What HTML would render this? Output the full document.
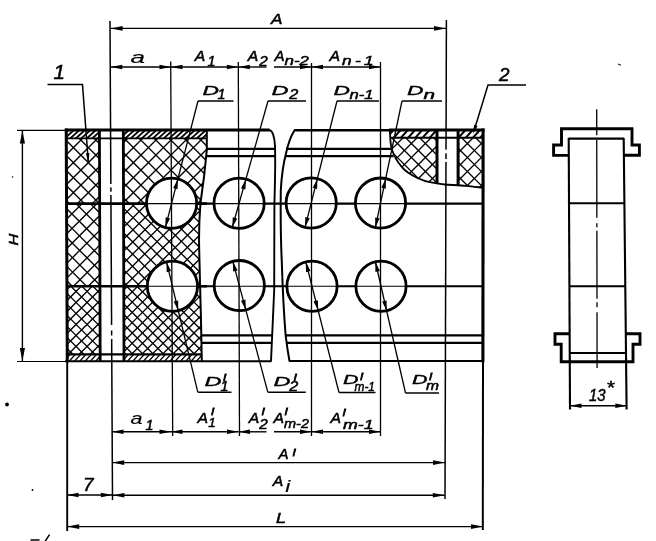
<!DOCTYPE html>
<html lang="ru"><head><meta charset="utf-8"><title>Drawing</title>
<style>
html,body{margin:0;padding:0;background:#fff;}
svg{display:block;will-change:transform;}
text{font-family:"Liberation Sans",sans-serif;font-style:italic;fill:#000;stroke:#000;stroke-width:0.5px;}
.ah{fill:#000;stroke:none;}
</style></head><body>
<svg width="656" height="541" viewBox="0 0 656 541">
<rect width="656" height="541" fill="#fff"/>
<g stroke="#000" fill="none" stroke-linecap="butt">
<defs>
<clipPath id="cl"><path d="M66,139 L206.8,139 L206.8,150 C205.5,165 203.5,183 200.5,203 C199.5,215 198.8,235 199.2,250 C199.6,270 200.5,300 201,320 L201.6,354 L66,354 Z"/></clipPath>
<clipPath id="cr"><path d="M389.8,131 C390.0,133.4 390.3,141.4 391,145.4 C391.7,149.4 392.8,152.2 394,155 C395.2,157.8 396.5,159.9 398.2,162.3 C399.9,164.7 401.8,167.3 404.2,169.5 C406.6,171.7 409.2,173.6 412.6,175.5 C416.0,177.4 420.7,179.6 424.7,180.9 C428.7,182.2 433.3,182.7 436.7,183.3 C440.1,183.9 440.1,184.1 445,184.5 C449.9,184.9 459.7,185.2 466,185.8 C472.3,186.4 480.2,187.5 483,187.8 L484,131 Z"/></clipPath>
<clipPath id="ct"><path d="M66,131 H206.5 V139 H66 Z M66,354 H201.5 V361 H66 Z"/></clipPath>
<clipPath id="ct2"><path d="M390,131 H484 V138 H390.4 Z"/></clipPath>
</defs>
<clipPath id="b0"><rect x="60" y="130" width="41" height="73.6"/></clipPath>
<g clip-path="url(#b0)"><g clip-path="url(#cl)" stroke-width="1.35">
<line x1="-6.2" y1="128.0" x2="71.4" y2="205.6"/>
<line x1="8.8" y1="128.0" x2="86.4" y2="205.6"/>
<line x1="23.8" y1="128.0" x2="101.4" y2="205.6"/>
<line x1="63.0" y1="128.0" x2="-14.6" y2="205.6"/>
<line x1="38.8" y1="128.0" x2="116.4" y2="205.6"/>
<line x1="78.0" y1="128.0" x2="0.4" y2="205.6"/>
<line x1="53.8" y1="128.0" x2="131.4" y2="205.6"/>
<line x1="93.0" y1="128.0" x2="15.4" y2="205.6"/>
<line x1="68.8" y1="128.0" x2="146.4" y2="205.6"/>
<line x1="108.0" y1="128.0" x2="30.4" y2="205.6"/>
<line x1="83.8" y1="128.0" x2="161.4" y2="205.6"/>
<line x1="123.0" y1="128.0" x2="45.4" y2="205.6"/>
<line x1="98.8" y1="128.0" x2="176.4" y2="205.6"/>
<line x1="138.0" y1="128.0" x2="60.4" y2="205.6"/>
<line x1="153.0" y1="128.0" x2="75.4" y2="205.6"/>
<line x1="168.0" y1="128.0" x2="90.4" y2="205.6"/>
</g></g>
<clipPath id="b1"><rect x="122" y="130" width="88" height="73.6"/></clipPath>
<g clip-path="url(#b1)"><g clip-path="url(#cl)" stroke-width="1.35">
<line x1="53.8" y1="128.0" x2="131.4" y2="205.6"/>
<line x1="68.8" y1="128.0" x2="146.4" y2="205.6"/>
<line x1="83.8" y1="128.0" x2="161.4" y2="205.6"/>
<line x1="123.0" y1="128.0" x2="45.4" y2="205.6"/>
<line x1="98.8" y1="128.0" x2="176.4" y2="205.6"/>
<line x1="138.0" y1="128.0" x2="60.4" y2="205.6"/>
<line x1="113.8" y1="128.0" x2="191.4" y2="205.6"/>
<line x1="153.0" y1="128.0" x2="75.4" y2="205.6"/>
<line x1="128.8" y1="128.0" x2="206.4" y2="205.6"/>
<line x1="168.0" y1="128.0" x2="90.4" y2="205.6"/>
<line x1="143.8" y1="128.0" x2="221.4" y2="205.6"/>
<line x1="183.0" y1="128.0" x2="105.4" y2="205.6"/>
<line x1="158.8" y1="128.0" x2="236.4" y2="205.6"/>
<line x1="198.0" y1="128.0" x2="120.4" y2="205.6"/>
<line x1="173.8" y1="128.0" x2="251.4" y2="205.6"/>
<line x1="213.0" y1="128.0" x2="135.4" y2="205.6"/>
<line x1="188.8" y1="128.0" x2="266.4" y2="205.6"/>
<line x1="228.0" y1="128.0" x2="150.4" y2="205.6"/>
<line x1="203.8" y1="128.0" x2="281.4" y2="205.6"/>
<line x1="243.0" y1="128.0" x2="165.4" y2="205.6"/>
<line x1="258.0" y1="128.0" x2="180.4" y2="205.6"/>
<line x1="273.0" y1="128.0" x2="195.4" y2="205.6"/>
<line x1="288.0" y1="128.0" x2="210.4" y2="205.6"/>
</g></g>
<clipPath id="b2"><rect x="60" y="203.6" width="41" height="82.6"/></clipPath>
<g clip-path="url(#b2)"><g clip-path="url(#cl)" stroke-width="1.35">
<line x1="-26.8" y1="201.6" x2="59.8" y2="288.2"/>
<line x1="-12.4" y1="201.6" x2="74.2" y2="288.2"/>
<line x1="2.0" y1="201.6" x2="88.6" y2="288.2"/>
<line x1="16.4" y1="201.6" x2="103.0" y2="288.2"/>
<line x1="30.8" y1="201.6" x2="117.4" y2="288.2"/>
<line x1="45.2" y1="201.6" x2="131.8" y2="288.2"/>
<line x1="69.3" y1="201.6" x2="-17.3" y2="288.2"/>
<line x1="59.6" y1="201.6" x2="146.2" y2="288.2"/>
<line x1="84.1" y1="201.6" x2="-2.5" y2="288.2"/>
<line x1="74.0" y1="201.6" x2="160.6" y2="288.2"/>
<line x1="98.9" y1="201.6" x2="12.3" y2="288.2"/>
<line x1="88.4" y1="201.6" x2="175.0" y2="288.2"/>
<line x1="113.7" y1="201.6" x2="27.1" y2="288.2"/>
<line x1="102.8" y1="201.6" x2="189.4" y2="288.2"/>
<line x1="128.5" y1="201.6" x2="41.9" y2="288.2"/>
<line x1="143.3" y1="201.6" x2="56.7" y2="288.2"/>
<line x1="158.1" y1="201.6" x2="71.5" y2="288.2"/>
<line x1="172.9" y1="201.6" x2="86.3" y2="288.2"/>
<line x1="187.7" y1="201.6" x2="101.1" y2="288.2"/>
</g></g>
<clipPath id="b3"><rect x="122" y="203.6" width="88" height="82.6"/></clipPath>
<g clip-path="url(#b3)"><g clip-path="url(#cl)" stroke-width="1.35">
<line x1="43.2" y1="201.6" x2="129.8" y2="288.2"/>
<line x1="55.5" y1="201.6" x2="142.1" y2="288.2"/>
<line x1="67.8" y1="201.6" x2="154.4" y2="288.2"/>
<line x1="80.1" y1="201.6" x2="166.7" y2="288.2"/>
<line x1="92.4" y1="201.6" x2="179.0" y2="288.2"/>
<line x1="104.7" y1="201.6" x2="191.3" y2="288.2"/>
<line x1="125.1" y1="201.6" x2="38.5" y2="288.2"/>
<line x1="117.0" y1="201.6" x2="203.6" y2="288.2"/>
<line x1="137.1" y1="201.6" x2="50.5" y2="288.2"/>
<line x1="129.3" y1="201.6" x2="215.9" y2="288.2"/>
<line x1="149.1" y1="201.6" x2="62.5" y2="288.2"/>
<line x1="141.6" y1="201.6" x2="228.2" y2="288.2"/>
<line x1="161.1" y1="201.6" x2="74.5" y2="288.2"/>
<line x1="153.9" y1="201.6" x2="240.5" y2="288.2"/>
<line x1="173.1" y1="201.6" x2="86.5" y2="288.2"/>
<line x1="166.2" y1="201.6" x2="252.8" y2="288.2"/>
<line x1="185.1" y1="201.6" x2="98.5" y2="288.2"/>
<line x1="178.5" y1="201.6" x2="265.1" y2="288.2"/>
<line x1="197.1" y1="201.6" x2="110.5" y2="288.2"/>
<line x1="190.8" y1="201.6" x2="277.4" y2="288.2"/>
<line x1="209.1" y1="201.6" x2="122.5" y2="288.2"/>
<line x1="203.1" y1="201.6" x2="289.7" y2="288.2"/>
<line x1="221.1" y1="201.6" x2="134.5" y2="288.2"/>
<line x1="233.1" y1="201.6" x2="146.5" y2="288.2"/>
<line x1="245.1" y1="201.6" x2="158.5" y2="288.2"/>
<line x1="257.1" y1="201.6" x2="170.5" y2="288.2"/>
<line x1="269.1" y1="201.6" x2="182.5" y2="288.2"/>
<line x1="281.1" y1="201.6" x2="194.5" y2="288.2"/>
<line x1="293.1" y1="201.6" x2="206.5" y2="288.2"/>
</g></g>
<clipPath id="b4"><rect x="60" y="286.2" width="41" height="69.8"/></clipPath>
<g clip-path="url(#b4)"><g clip-path="url(#cl)" stroke-width="1.35">
<line x1="-8.2" y1="284.2" x2="65.6" y2="358.0"/>
<line x1="2.8" y1="284.2" x2="76.6" y2="358.0"/>
<line x1="13.8" y1="284.2" x2="87.6" y2="358.0"/>
<line x1="24.8" y1="284.2" x2="98.6" y2="358.0"/>
<line x1="35.8" y1="284.2" x2="109.6" y2="358.0"/>
<line x1="61.3" y1="284.2" x2="-12.5" y2="358.0"/>
<line x1="46.8" y1="284.2" x2="120.6" y2="358.0"/>
<line x1="72.3" y1="284.2" x2="-1.5" y2="358.0"/>
<line x1="57.8" y1="284.2" x2="131.6" y2="358.0"/>
<line x1="83.3" y1="284.2" x2="9.5" y2="358.0"/>
<line x1="68.8" y1="284.2" x2="142.6" y2="358.0"/>
<line x1="94.3" y1="284.2" x2="20.5" y2="358.0"/>
<line x1="79.8" y1="284.2" x2="153.6" y2="358.0"/>
<line x1="105.3" y1="284.2" x2="31.5" y2="358.0"/>
<line x1="90.8" y1="284.2" x2="164.6" y2="358.0"/>
<line x1="116.3" y1="284.2" x2="42.5" y2="358.0"/>
<line x1="101.8" y1="284.2" x2="175.6" y2="358.0"/>
<line x1="127.3" y1="284.2" x2="53.5" y2="358.0"/>
<line x1="138.3" y1="284.2" x2="64.5" y2="358.0"/>
<line x1="149.3" y1="284.2" x2="75.5" y2="358.0"/>
<line x1="160.3" y1="284.2" x2="86.5" y2="358.0"/>
<line x1="171.3" y1="284.2" x2="97.5" y2="358.0"/>
</g></g>
<clipPath id="b5"><rect x="122" y="286.2" width="88" height="69.8"/></clipPath>
<g clip-path="url(#b5)"><g clip-path="url(#cl)" stroke-width="1.35">
<line x1="52.5" y1="284.2" x2="126.3" y2="358.0"/>
<line x1="62.8" y1="284.2" x2="136.6" y2="358.0"/>
<line x1="73.1" y1="284.2" x2="146.9" y2="358.0"/>
<line x1="83.4" y1="284.2" x2="157.2" y2="358.0"/>
<line x1="93.7" y1="284.2" x2="167.5" y2="358.0"/>
<line x1="104.0" y1="284.2" x2="177.8" y2="358.0"/>
<line x1="129.5" y1="284.2" x2="55.7" y2="358.0"/>
<line x1="114.3" y1="284.2" x2="188.1" y2="358.0"/>
<line x1="139.8" y1="284.2" x2="66.0" y2="358.0"/>
<line x1="124.6" y1="284.2" x2="198.4" y2="358.0"/>
<line x1="150.1" y1="284.2" x2="76.3" y2="358.0"/>
<line x1="134.9" y1="284.2" x2="208.7" y2="358.0"/>
<line x1="160.4" y1="284.2" x2="86.6" y2="358.0"/>
<line x1="145.2" y1="284.2" x2="219.0" y2="358.0"/>
<line x1="170.7" y1="284.2" x2="96.9" y2="358.0"/>
<line x1="155.5" y1="284.2" x2="229.3" y2="358.0"/>
<line x1="181.0" y1="284.2" x2="107.2" y2="358.0"/>
<line x1="165.8" y1="284.2" x2="239.6" y2="358.0"/>
<line x1="191.3" y1="284.2" x2="117.5" y2="358.0"/>
<line x1="176.1" y1="284.2" x2="249.9" y2="358.0"/>
<line x1="201.6" y1="284.2" x2="127.8" y2="358.0"/>
<line x1="186.4" y1="284.2" x2="260.2" y2="358.0"/>
<line x1="211.9" y1="284.2" x2="138.1" y2="358.0"/>
<line x1="196.7" y1="284.2" x2="270.5" y2="358.0"/>
<line x1="222.2" y1="284.2" x2="148.4" y2="358.0"/>
<line x1="207.0" y1="284.2" x2="280.8" y2="358.0"/>
<line x1="232.5" y1="284.2" x2="158.7" y2="358.0"/>
<line x1="242.8" y1="284.2" x2="169.0" y2="358.0"/>
<line x1="253.1" y1="284.2" x2="179.3" y2="358.0"/>
<line x1="263.4" y1="284.2" x2="189.6" y2="358.0"/>
<line x1="273.7" y1="284.2" x2="199.9" y2="358.0"/>
<line x1="284.0" y1="284.2" x2="210.2" y2="358.0"/>
</g></g>
<clipPath id="cr0"><rect x="380" y="138" width="110" height="60"/></clipPath>
<g clip-path="url(#cr0)"><g clip-path="url(#cr)" stroke-width="1.35">
<line x1="215.9" y1="130" x2="285.9" y2="200"/>
<line x1="270.9" y1="130" x2="200.9" y2="200"/>
<line x1="229.9" y1="130" x2="299.9" y2="200"/>
<line x1="284.9" y1="130" x2="214.9" y2="200"/>
<line x1="243.9" y1="130" x2="313.9" y2="200"/>
<line x1="298.9" y1="130" x2="228.9" y2="200"/>
<line x1="257.9" y1="130" x2="327.9" y2="200"/>
<line x1="312.9" y1="130" x2="242.9" y2="200"/>
<line x1="271.9" y1="130" x2="341.9" y2="200"/>
<line x1="326.9" y1="130" x2="256.9" y2="200"/>
<line x1="285.9" y1="130" x2="355.9" y2="200"/>
<line x1="340.9" y1="130" x2="270.9" y2="200"/>
<line x1="299.9" y1="130" x2="369.9" y2="200"/>
<line x1="354.9" y1="130" x2="284.9" y2="200"/>
<line x1="313.9" y1="130" x2="383.9" y2="200"/>
<line x1="368.9" y1="130" x2="298.9" y2="200"/>
<line x1="327.9" y1="130" x2="397.9" y2="200"/>
<line x1="382.9" y1="130" x2="312.9" y2="200"/>
<line x1="341.9" y1="130" x2="411.9" y2="200"/>
<line x1="396.9" y1="130" x2="326.9" y2="200"/>
<line x1="355.9" y1="130" x2="425.9" y2="200"/>
<line x1="410.9" y1="130" x2="340.9" y2="200"/>
<line x1="369.9" y1="130" x2="439.9" y2="200"/>
<line x1="424.9" y1="130" x2="354.9" y2="200"/>
<line x1="383.9" y1="130" x2="453.9" y2="200"/>
<line x1="438.9" y1="130" x2="368.9" y2="200"/>
<line x1="397.9" y1="130" x2="467.9" y2="200"/>
<line x1="452.9" y1="130" x2="382.9" y2="200"/>
<line x1="411.9" y1="130" x2="481.9" y2="200"/>
<line x1="466.9" y1="130" x2="396.9" y2="200"/>
<line x1="425.9" y1="130" x2="495.9" y2="200"/>
<line x1="480.9" y1="130" x2="410.9" y2="200"/>
<line x1="439.9" y1="130" x2="509.9" y2="200"/>
<line x1="494.9" y1="130" x2="424.9" y2="200"/>
<line x1="453.9" y1="130" x2="523.9" y2="200"/>
<line x1="508.9" y1="130" x2="438.9" y2="200"/>
<line x1="467.9" y1="130" x2="537.9" y2="200"/>
<line x1="522.9" y1="130" x2="452.9" y2="200"/>
<line x1="481.9" y1="130" x2="551.9" y2="200"/>
<line x1="536.9" y1="130" x2="466.9" y2="200"/>
<line x1="495.9" y1="130" x2="565.9" y2="200"/>
<line x1="550.9" y1="130" x2="480.9" y2="200"/>
<line x1="509.9" y1="130" x2="579.9" y2="200"/>
<line x1="564.9" y1="130" x2="494.9" y2="200"/>
<line x1="523.9" y1="130" x2="593.9" y2="200"/>
<line x1="578.9" y1="130" x2="508.9" y2="200"/>
<line x1="537.9" y1="130" x2="607.9" y2="200"/>
<line x1="592.9" y1="130" x2="522.9" y2="200"/>
</g></g>
<g clip-path="url(#ct)">
<line x1="68.5" y1="130" x2="57.5" y2="140" stroke-width="1.8"/>
<line x1="66.0" y1="353" x2="57.0" y2="363" stroke-width="1.3"/>
<line x1="74.0" y1="130" x2="63.0" y2="140" stroke-width="1.8"/>
<line x1="71.3" y1="353" x2="62.3" y2="363" stroke-width="1.3"/>
<line x1="79.5" y1="130" x2="68.5" y2="140" stroke-width="1.8"/>
<line x1="76.6" y1="353" x2="67.6" y2="363" stroke-width="1.3"/>
<line x1="85.0" y1="130" x2="74.0" y2="140" stroke-width="1.8"/>
<line x1="81.9" y1="353" x2="72.9" y2="363" stroke-width="1.3"/>
<line x1="90.5" y1="130" x2="79.5" y2="140" stroke-width="1.8"/>
<line x1="87.2" y1="353" x2="78.2" y2="363" stroke-width="1.3"/>
<line x1="96.0" y1="130" x2="85.0" y2="140" stroke-width="1.8"/>
<line x1="92.5" y1="353" x2="83.5" y2="363" stroke-width="1.3"/>
<line x1="101.5" y1="130" x2="90.5" y2="140" stroke-width="1.8"/>
<line x1="97.8" y1="353" x2="88.8" y2="363" stroke-width="1.3"/>
<line x1="107.0" y1="130" x2="96.0" y2="140" stroke-width="1.8"/>
<line x1="103.1" y1="353" x2="94.1" y2="363" stroke-width="1.3"/>
<line x1="112.5" y1="130" x2="101.5" y2="140" stroke-width="1.8"/>
<line x1="108.4" y1="353" x2="99.4" y2="363" stroke-width="1.3"/>
<line x1="118.0" y1="130" x2="107.0" y2="140" stroke-width="1.8"/>
<line x1="113.7" y1="353" x2="104.7" y2="363" stroke-width="1.3"/>
<line x1="123.5" y1="130" x2="112.5" y2="140" stroke-width="1.8"/>
<line x1="119.0" y1="353" x2="110.0" y2="363" stroke-width="1.3"/>
<line x1="129.0" y1="130" x2="118.0" y2="140" stroke-width="1.8"/>
<line x1="124.3" y1="353" x2="115.3" y2="363" stroke-width="1.3"/>
<line x1="134.5" y1="130" x2="123.5" y2="140" stroke-width="1.8"/>
<line x1="129.6" y1="353" x2="120.6" y2="363" stroke-width="1.3"/>
<line x1="140.0" y1="130" x2="129.0" y2="140" stroke-width="1.8"/>
<line x1="134.9" y1="353" x2="125.9" y2="363" stroke-width="1.3"/>
<line x1="145.5" y1="130" x2="134.5" y2="140" stroke-width="1.8"/>
<line x1="140.2" y1="353" x2="131.2" y2="363" stroke-width="1.3"/>
<line x1="151.0" y1="130" x2="140.0" y2="140" stroke-width="1.8"/>
<line x1="145.5" y1="353" x2="136.5" y2="363" stroke-width="1.3"/>
<line x1="156.5" y1="130" x2="145.5" y2="140" stroke-width="1.8"/>
<line x1="150.8" y1="353" x2="141.8" y2="363" stroke-width="1.3"/>
<line x1="162.0" y1="130" x2="151.0" y2="140" stroke-width="1.8"/>
<line x1="156.1" y1="353" x2="147.1" y2="363" stroke-width="1.3"/>
<line x1="167.5" y1="130" x2="156.5" y2="140" stroke-width="1.8"/>
<line x1="161.4" y1="353" x2="152.4" y2="363" stroke-width="1.3"/>
<line x1="173.0" y1="130" x2="162.0" y2="140" stroke-width="1.8"/>
<line x1="166.7" y1="353" x2="157.7" y2="363" stroke-width="1.3"/>
<line x1="178.5" y1="130" x2="167.5" y2="140" stroke-width="1.8"/>
<line x1="172.0" y1="353" x2="163.0" y2="363" stroke-width="1.3"/>
<line x1="184.0" y1="130" x2="173.0" y2="140" stroke-width="1.8"/>
<line x1="177.3" y1="353" x2="168.3" y2="363" stroke-width="1.3"/>
<line x1="189.5" y1="130" x2="178.5" y2="140" stroke-width="1.8"/>
<line x1="182.6" y1="353" x2="173.6" y2="363" stroke-width="1.3"/>
<line x1="195.0" y1="130" x2="184.0" y2="140" stroke-width="1.8"/>
<line x1="187.9" y1="353" x2="178.9" y2="363" stroke-width="1.3"/>
<line x1="200.5" y1="130" x2="189.5" y2="140" stroke-width="1.8"/>
<line x1="193.2" y1="353" x2="184.2" y2="363" stroke-width="1.3"/>
<line x1="206.0" y1="130" x2="195.0" y2="140" stroke-width="1.8"/>
<line x1="198.5" y1="353" x2="189.5" y2="363" stroke-width="1.3"/>
<line x1="211.5" y1="130" x2="200.5" y2="140" stroke-width="1.8"/>
<line x1="203.8" y1="353" x2="194.8" y2="363" stroke-width="1.3"/>
<line x1="217.0" y1="130" x2="206.0" y2="140" stroke-width="1.8"/>
<line x1="209.1" y1="353" x2="200.1" y2="363" stroke-width="1.3"/>
<line x1="222.5" y1="130" x2="211.5" y2="140" stroke-width="1.8"/>
<line x1="214.4" y1="353" x2="205.4" y2="363" stroke-width="1.3"/>
<line x1="228.0" y1="130" x2="217.0" y2="140" stroke-width="1.8"/>
<line x1="219.7" y1="353" x2="210.7" y2="363" stroke-width="1.3"/>
</g>
<g clip-path="url(#ct2)" stroke-width="2.0">
<line x1="393.5" y1="130" x2="384.5" y2="140"/>
<line x1="400.7" y1="130" x2="391.7" y2="140"/>
<line x1="407.9" y1="130" x2="398.9" y2="140"/>
<line x1="415.1" y1="130" x2="406.1" y2="140"/>
<line x1="422.3" y1="130" x2="413.3" y2="140"/>
<line x1="429.5" y1="130" x2="420.5" y2="140"/>
<line x1="436.7" y1="130" x2="427.7" y2="140"/>
<line x1="443.9" y1="130" x2="434.9" y2="140"/>
<line x1="451.1" y1="130" x2="442.1" y2="140"/>
<line x1="458.3" y1="130" x2="449.3" y2="140"/>
<line x1="465.5" y1="130" x2="456.5" y2="140"/>
<line x1="472.7" y1="130" x2="463.7" y2="140"/>
<line x1="479.9" y1="130" x2="470.9" y2="140"/>
<line x1="487.1" y1="130" x2="478.1" y2="140"/>
<line x1="494.3" y1="130" x2="485.3" y2="140"/>
<line x1="501.5" y1="130" x2="492.5" y2="140"/>
<line x1="508.7" y1="130" x2="499.7" y2="140"/>
<line x1="515.9" y1="130" x2="506.9" y2="140"/>
<line x1="523.1" y1="130" x2="514.1" y2="140"/>
<line x1="530.3" y1="130" x2="521.3" y2="140"/>
</g>
<rect x="100" y="131" width="23.5" height="230" fill="#fff" stroke="none"/>
<rect x="437" y="131" width="21" height="54" fill="#fff" stroke="none"/>
<line x1="17" y1="130.3" x2="66" y2="130.3" stroke-width="1.2" />
<line x1="17" y1="361.5" x2="66" y2="361.5" stroke-width="1.2" />
<path d="M65,130 H269.6" stroke-width="3.1" fill="none" />
<path d="M269,130.2 H269.6 C272.5,131 274.5,138 275,146 C275.6,165 274.8,190 274.4,203.5 C274.3,235 274.4,270 274.2,290 C273.5,310 272,335 271,361.3" stroke-width="1.9" fill="none" />
<path d="M271.5,361.3 H65" stroke-width="2.0" fill="none" />
<path d="M392,130.2 H294.5" stroke-width="2.5" fill="none" />
<path d="M484.5,130 H389" stroke-width="3.1" fill="none" />
<path d="M295,130.2 H294.5 C291,136 287.5,146 286,153.5 C283.5,163 281.5,178 280.8,190 C280.5,215 281,245 281.8,262 C282.5,285 284,315 285.6,335 C286.8,345 288.2,354 289.5,361.3" stroke-width="2.0" fill="none" />
<path d="M289,361 H484" stroke-width="2.0" fill="none" />
<line x1="66.2" y1="128.5" x2="67.3" y2="362.3" stroke-width="3.0" />
<line x1="483.1" y1="128.5" x2="482.9" y2="362.3" stroke-width="3.1" />
<line x1="66" y1="138.3" x2="206.8" y2="138.3" stroke-width="1.7" />
<line x1="390" y1="137.8" x2="484" y2="137.8" stroke-width="2.0" />
<line x1="66" y1="354.4" x2="201.7" y2="354.4" stroke-width="2.2" />
<line x1="99.4" y1="130" x2="100.2" y2="361" stroke-width="2.8" />
<line x1="123.3" y1="130" x2="124.0" y2="361" stroke-width="2.8" />
<line x1="437" y1="130" x2="437" y2="183.8" stroke-width="3.0" />
<line x1="458.1" y1="130" x2="458.1" y2="185.5" stroke-width="3.0" />
<path d="M206.8,131 L206.8,150 C205.5,165 203.5,183 200.5,203 C199.5,215 198.8,235 199.2,250 C199.6,270 200.5,300 201,320 L201.8,361" stroke-width="2.0" fill="none" />
<path d="M389.8,131 C390.0,133.4 390.3,141.4 391,145.4 C391.7,149.4 392.8,152.2 394,155 C395.2,157.8 396.5,159.9 398.2,162.3 C399.9,164.7 401.8,167.3 404.2,169.5 C406.6,171.7 409.2,173.6 412.6,175.5 C416.0,177.4 420.7,179.6 424.7,180.9 C428.7,182.2 433.3,182.7 436.7,183.3 C440.1,183.9 440.1,184.1 445,184.5 C449.9,184.9 459.7,185.2 466,185.8 C472.3,186.4 480.2,187.5 483,187.8" stroke-width="1.8" fill="none" />
<line x1="206.5" y1="148.8" x2="275" y2="148.8" stroke-width="2.2" />
<line x1="286" y1="148.8" x2="391" y2="148.8" stroke-width="2.2" />
<line x1="206.5" y1="156.2" x2="275" y2="156.2" stroke-width="2.2" />
<line x1="285.2" y1="156.2" x2="393.5" y2="156.2" stroke-width="2.2" />
<line x1="201.5" y1="335.4" x2="271.8" y2="335.4" stroke-width="2.2" />
<line x1="285.8" y1="335.4" x2="484" y2="335.4" stroke-width="2.2" />
<line x1="201.5" y1="342.8" x2="271.4" y2="342.8" stroke-width="2.2" />
<line x1="286.8" y1="342.8" x2="484" y2="342.8" stroke-width="2.2" />
<line x1="66" y1="203.6" x2="207" y2="203.6" stroke-width="2.6" />
<line x1="200" y1="203.6" x2="484" y2="203.6" stroke-width="2.1" />
<line x1="66" y1="286.2" x2="207" y2="286.2" stroke-width="2.6" />
<line x1="200" y1="286.2" x2="484" y2="286.2" stroke-width="2.1" />
<circle cx="171.6" cy="203.3" r="25.1" fill="#fff" stroke-width="2.8"/>
<line x1="146.5" y1="203.6" x2="196.7" y2="203.6" stroke-width="1.1" />
<circle cx="239.1" cy="203.3" r="25.1" fill="#fff" stroke-width="2.8"/>
<line x1="214.0" y1="203.6" x2="264.2" y2="203.6" stroke-width="1.1" />
<circle cx="311.2" cy="203.0" r="25.1" fill="#fff" stroke-width="2.8"/>
<line x1="286.09999999999997" y1="203.6" x2="336.3" y2="203.6" stroke-width="1.1" />
<circle cx="380.5" cy="203.1" r="25.1" fill="#fff" stroke-width="2.8"/>
<line x1="355.4" y1="203.6" x2="405.6" y2="203.6" stroke-width="1.1" />
<circle cx="172.4" cy="286.3" r="25.1" fill="#fff" stroke-width="2.8"/>
<line x1="147.3" y1="286.2" x2="197.5" y2="286.2" stroke-width="1.1" />
<circle cx="239.3" cy="285.6" r="25.1" fill="#fff" stroke-width="2.8"/>
<line x1="214.20000000000002" y1="286.2" x2="264.40000000000003" y2="286.2" stroke-width="1.1" />
<circle cx="312.0" cy="286.2" r="25.1" fill="#fff" stroke-width="2.8"/>
<line x1="286.9" y1="286.2" x2="337.1" y2="286.2" stroke-width="1.1" />
<circle cx="381.0" cy="286.2" r="25.1" fill="#fff" stroke-width="2.8"/>
<line x1="355.9" y1="286.2" x2="406.1" y2="286.2" stroke-width="1.1" />
<line x1="110.0" y1="21" x2="112.5" y2="500" stroke-width="1.5" />
<line x1="170.7" y1="61.5" x2="172.7" y2="436" stroke-width="1.3" />
<line x1="238.3" y1="62" x2="239.5" y2="436" stroke-width="1.3" />
<line x1="311.5" y1="63" x2="311.5" y2="436" stroke-width="1.3" />
<line x1="380.5" y1="62" x2="380.5" y2="436" stroke-width="1.3" />
<line x1="446.4" y1="20" x2="445.0" y2="499" stroke-width="1.5" />
<line x1="67.2" y1="361" x2="67.2" y2="531" stroke-width="1.9" />
<line x1="483.0" y1="361" x2="482.8" y2="530" stroke-width="2.0" />
<rect x="109.3" y="184" width="3.2" height="3.4" fill="#fff" stroke="none"/>
<rect x="109.3" y="191.7" width="3.2" height="3.3" fill="#fff" stroke="none"/>
<rect x="110.0" y="325" width="3.2" height="5.5" fill="#fff" stroke="none"/>
<rect x="110.0" y="335.5" width="3.2" height="3.5" fill="#fff" stroke="none"/>
<rect x="444.6" y="149.6" width="3.2" height="3.7" fill="#fff" stroke="none"/>
<rect x="444.6" y="159" width="3.2" height="3" fill="#fff" stroke="none"/>
<line x1="22.4" y1="130" x2="22.4" y2="361" stroke-width="1.4" />
<polygon class="ah" points="22.40,130.50 25.00,143.50 19.80,143.50"/>
<polygon class="ah" points="22.40,361.00 19.80,348.00 25.00,348.00"/>
<line x1="110.6" y1="28.4" x2="446" y2="28.4" stroke-width="1.4" />
<polygon class="ah" points="110.60,28.40 122.60,26.10 122.60,30.70"/>
<polygon class="ah" points="446.00,28.40 434.00,30.70 434.00,26.10"/>
<line x1="110.8" y1="67" x2="171" y2="67" stroke-width="1.4" />
<polygon class="ah" points="110.80,67.00 122.30,64.70 122.30,69.30"/>
<polygon class="ah" points="171.00,67.00 159.50,69.30 159.50,64.70"/>
<line x1="171" y1="67" x2="238.3" y2="67" stroke-width="1.4" />
<polygon class="ah" points="171.00,67.00 182.50,64.70 182.50,69.30"/>
<polygon class="ah" points="238.30,67.00 226.80,69.30 226.80,64.70"/>
<line x1="238.3" y1="67" x2="266.5" y2="67" stroke-width="1.4" />
<polygon class="ah" points="238.30,67.00 249.80,64.70 249.80,69.30"/>
<line x1="274" y1="67" x2="311.5" y2="67" stroke-width="1.4" />
<polygon class="ah" points="311.50,67.00 300.00,69.30 300.00,64.70"/>
<line x1="311.5" y1="67" x2="380.5" y2="67" stroke-width="1.4" />
<polygon class="ah" points="311.50,67.00 323.00,64.70 323.00,69.30"/>
<polygon class="ah" points="380.50,67.00 369.00,69.30 369.00,64.70"/>
<line x1="112" y1="431.8" x2="171" y2="431.8" stroke-width="1.4" />
<polygon class="ah" points="112.00,431.80 123.50,429.50 123.50,434.10"/>
<polygon class="ah" points="171.00,431.80 159.50,434.10 159.50,429.50"/>
<line x1="171" y1="431.8" x2="238.5" y2="431.8" stroke-width="1.4" />
<polygon class="ah" points="171.00,431.80 182.50,429.50 182.50,434.10"/>
<polygon class="ah" points="238.50,431.80 227.00,434.10 227.00,429.50"/>
<line x1="238.5" y1="431.8" x2="266.5" y2="431.8" stroke-width="1.4" />
<polygon class="ah" points="238.50,431.80 250.00,429.50 250.00,434.10"/>
<line x1="274" y1="431.8" x2="311.5" y2="431.8" stroke-width="1.4" />
<polygon class="ah" points="311.50,431.80 300.00,434.10 300.00,429.50"/>
<line x1="311.5" y1="431.8" x2="380.5" y2="431.8" stroke-width="1.4" />
<polygon class="ah" points="311.50,431.80 323.00,429.50 323.00,434.10"/>
<polygon class="ah" points="380.50,431.80 369.00,434.10 369.00,429.50"/>
<line x1="112.2" y1="462.6" x2="445" y2="462.6" stroke-width="1.4" />
<polygon class="ah" points="112.20,462.60 124.20,460.30 124.20,464.90"/>
<polygon class="ah" points="445.00,462.60 433.00,464.90 433.00,460.30"/>
<line x1="112.4" y1="495.2" x2="444.8" y2="495.2" stroke-width="1.4" />
<polygon class="ah" points="112.40,495.20 124.40,492.90 124.40,497.50"/>
<polygon class="ah" points="444.80,495.20 432.80,497.50 432.80,492.90"/>
<line x1="67" y1="495.0" x2="112.4" y2="495.0" stroke-width="1.4" />
<polygon class="ah" points="67.00,495.00 78.50,492.70 78.50,497.30"/>
<polygon class="ah" points="112.40,495.00 100.90,497.30 100.90,492.70"/>
<line x1="67.2" y1="526.6" x2="483" y2="526.6" stroke-width="1.4" />
<polygon class="ah" points="67.20,526.60 79.20,524.30 79.20,528.90"/>
<polygon class="ah" points="483.00,526.60 471.00,528.90 471.00,524.30"/>
<line x1="198" y1="101" x2="233.5" y2="101" stroke-width="1.4" />
<line x1="198" y1="101" x2="165.32806172255357" y2="227.6037608251049" stroke-width="1.3" />
<polygon class="ah" points="165.33,227.60 165.60,217.35 170.05,218.50"/>
<polygon class="ah" points="177.87,179.00 177.60,189.25 173.15,188.10"/>
<line x1="268" y1="101" x2="306" y2="101" stroke-width="1.4" />
<line x1="268" y1="101" x2="232.276255858953" y2="227.45463756502107" stroke-width="1.3" />
<polygon class="ah" points="232.28,227.45 232.78,217.21 237.21,218.46"/>
<polygon class="ah" points="245.92,179.15 245.42,189.39 240.99,188.14"/>
<line x1="337" y1="101" x2="379" y2="101" stroke-width="1.4" />
<line x1="337" y1="101" x2="305.04501953591097" y2="227.33364369523565" stroke-width="1.3" />
<polygon class="ah" points="305.05,227.33 305.27,217.07 309.73,218.20"/>
<polygon class="ah" points="317.35,178.67 317.13,188.93 312.67,187.80"/>
<line x1="402" y1="101" x2="442" y2="101" stroke-width="1.4" />
<line x1="402" y1="101" x2="375.3279245522863" y2="227.6613443354218" stroke-width="1.3" />
<polygon class="ah" points="375.33,227.66 375.14,217.40 379.64,218.35"/>
<polygon class="ah" points="385.67,178.54 385.86,188.80 381.36,187.85"/>
<line x1="197.8" y1="392.2" x2="231.5" y2="392.2" stroke-width="1.4" />
<line x1="197.8" y1="392.2" x2="166.54582578017963" y2="261.89224213074885" stroke-width="1.3" />
<polygon class="ah" points="166.55,261.89 171.11,271.08 166.64,272.15"/>
<polygon class="ah" points="178.25,310.71 173.69,301.52 178.16,300.45"/>
<line x1="267.8" y1="392.2" x2="305.8" y2="392.2" stroke-width="1.4" />
<line x1="267.8" y1="392.2" x2="232.8170951083903" y2="261.35166100190895" stroke-width="1.3" />
<polygon class="ah" points="232.82,261.35 237.62,270.42 233.18,271.61"/>
<polygon class="ah" points="245.78,309.85 240.98,300.78 245.42,299.59"/>
<line x1="339" y1="392.5" x2="375.5" y2="392.5" stroke-width="1.4" />
<line x1="339" y1="392.5" x2="305.82085595496295" y2="261.8724810375023" stroke-width="1.3" />
<polygon class="ah" points="305.82,261.87 310.51,271.00 306.05,272.13"/>
<polygon class="ah" points="318.18,310.53 313.49,301.40 317.95,300.27"/>
<line x1="405.5" y1="393" x2="439" y2="393" stroke-width="1.4" />
<line x1="405.5" y1="393" x2="375.3878176435418" y2="261.7354662991943" stroke-width="1.3" />
<polygon class="ah" points="375.39,261.74 379.87,270.97 375.38,272.00"/>
<polygon class="ah" points="386.61,310.66 382.13,301.43 386.62,300.40"/>
<path d="M47.5,84.6 H82.5 L88.3,162" stroke-width="1.5" fill="none" />
<polygon class="ah" points="88.40,163.00 85.86,153.16 89.45,152.89"/>
<path d="M526,85 H488 L474,131" stroke-width="1.5" fill="none" />
<polygon class="ah" points="473.20,134.00 474.06,124.86 477.51,125.90"/>
<path d="M568.5,155.4 H553.6 V145 H561.5 V128.8 H632 V145 H639.4 V155.2 H624" stroke-width="2.9" fill="none" stroke-linejoin="miter"/>
<path d="M568.5,138.6 H624" stroke-width="2.2" fill="none" />
<line x1="568.7" y1="138" x2="570" y2="409.5" stroke-width="2.1" />
<line x1="623.7" y1="138" x2="626.6" y2="409.5" stroke-width="2.1" />
<line x1="569" y1="203.3" x2="624.5" y2="203.3" stroke-width="2.0" />
<line x1="569.3" y1="286.2" x2="625.3" y2="286.2" stroke-width="2.0" />
<path d="M569.5,333.8 H555 V344.2 H561.2 V361.8 H633 V344.2 H640 V333.8 H625.5" stroke-width="2.9" fill="none" />
<line x1="569.8" y1="353" x2="626" y2="353" stroke-width="2.1" />
<line x1="596.7" y1="109.3" x2="597.1" y2="368" stroke-width="1.3" stroke-dasharray="26 4.5 78 5.5 4 3.5 68 3.5 5 5 100"/>
<line x1="570" y1="405.8" x2="626.8" y2="405.8" stroke-width="1.4" />
<polygon class="ah" points="570.00,405.80 581.50,403.50 581.50,408.10"/>
<polygon class="ah" points="626.80,405.80 615.30,408.10 615.30,403.50"/>
</g>
<circle cx="7" cy="404.5" r="1.9" fill="#000"/>
<circle cx="12.5" cy="177" r="0.8" fill="#000"/>
<circle cx="32.5" cy="490" r="0.9" fill="#000"/>
<path d="M618,64 l3,1.2" stroke="#000" stroke-width="1"/>
<path d="M30.5,540 h9 M45,541.5 l4.5,-6.8" stroke="#000" stroke-width="1.5"/>
<g>
<text transform="translate(271,24) scale(1.149,1)" font-size="15" >A</text>
<text transform="translate(130.5,62.6) scale(1.534,1)" font-size="17" style="stroke-width:0.15px">a</text>
<text transform="translate(194.8,60.8) scale(1.124,1)" font-size="14" >A</text>
<text transform="translate(207.5,65.6) scale(0.992,1)" font-size="14.5" >1</text>
<text transform="translate(247.8,60.8) scale(1.124,1)" font-size="14" >A</text>
<text transform="translate(259.3,65.6) scale(1.054,1)" font-size="14.5" >2</text>
<text transform="translate(274.5,60.8) scale(1.071,1)" font-size="14" >A</text>
<text transform="translate(284.5,65.3) scale(1.256,1)" font-size="13.5" >n-2</text>
<text transform="translate(329.5,60.5) scale(1.124,1)" font-size="14" >A</text>
<text transform="translate(342,65) scale(1.281,1)" font-size="13.5" letter-spacing="2.6">n-1</text>
<text transform="translate(202.5,95) scale(1.758,1)" font-size="13" style="stroke-width:0.35px">D</text>
<text transform="translate(217.5,98.8) scale(0.992,1)" font-size="14.5" >1</text>
<text transform="translate(271.5,95) scale(1.811,1)" font-size="13" style="stroke-width:0.35px">D</text>
<text transform="translate(289.3,98.8) scale(1.116,1)" font-size="14.5" >2</text>
<text transform="translate(333.5,95) scale(1.758,1)" font-size="13" style="stroke-width:0.35px">D</text>
<text transform="translate(349.5,98.8) scale(1.230,1)" font-size="13.5" >n-1</text>
<text transform="translate(407,95) scale(1.758,1)" font-size="13" style="stroke-width:0.35px">D</text>
<text transform="translate(423.5,98.8) scale(1.532,1)" font-size="13.5" >n</text>
<text transform="translate(53.5,79) scale(1.034,1)" font-size="20" >1</text>
<text transform="translate(499,80.5) scale(1.049,1)" font-size="18" >2</text>
<text transform="translate(17.6,245.5) rotate(-90) scale(1.3,1)" font-size="12.5">H</text>
<text transform="translate(204.5,386) scale(1.811,1)" font-size="13" style="stroke-width:0.35px">D</text>
<text transform="translate(220.1,393.5) skewX(-9) scale(0.95,1.9)" font-size="15" style="stroke-width:0.9px">'</text>
<text transform="translate(220.5,391.2) scale(0.992,1)" font-size="14.5" >1</text>
<text transform="translate(273.5,386) scale(1.811,1)" font-size="13" style="stroke-width:0.35px">D</text>
<text transform="translate(290.6,393.5) skewX(-9) scale(0.95,1.9)" font-size="15" style="stroke-width:0.9px">'</text>
<text transform="translate(289.3,391.2) scale(1.116,1)" font-size="14.5" >2</text>
<text transform="translate(343,384.2) scale(1.717,1)" font-size="12.5" style="stroke-width:0.35px">D</text>
<text transform="translate(357.1,392.5) skewX(-9) scale(0.95,1.9)" font-size="15" style="stroke-width:0.9px">'</text>
<text transform="translate(354.5,391) scale(0.882,1)" font-size="13.5" >m-1</text>
<text transform="translate(412,384.2) scale(1.717,1)" font-size="12.5" style="stroke-width:0.35px">D</text>
<text transform="translate(426.1,392.5) skewX(-9) scale(0.95,1.9)" font-size="15" style="stroke-width:0.9px">'</text>
<text transform="translate(426,390) scale(1.156,1)" font-size="13.5" >m</text>
<text transform="translate(130.5,424) scale(1.349,1)" font-size="16" style="stroke-width:0.15px">a</text>
<text transform="translate(145.5,429.6) scale(0.992,1)" font-size="14.5" >1</text>
<text transform="translate(197.5,422.7) scale(1.124,1)" font-size="14" >A</text>
<text transform="translate(208.1,428.0) skewX(-9) scale(0.95,1.9)" font-size="15" style="stroke-width:0.9px">'</text>
<text transform="translate(208.3,427) scale(0.999,1)" font-size="13.5" >1</text>
<text transform="translate(248.8,422.7) scale(1.124,1)" font-size="14" >A</text>
<text transform="translate(258.6,428.0) skewX(-9) scale(0.95,1.9)" font-size="15" style="stroke-width:0.9px">'</text>
<text transform="translate(259.3,429.2) scale(1.054,1)" font-size="14.5" >2</text>
<text transform="translate(273.5,422.5) scale(1.124,1)" font-size="14" >A</text>
<text transform="translate(281.6,428.0) skewX(-9) scale(0.95,1.9)" font-size="15" style="stroke-width:0.9px">'</text>
<text transform="translate(284,428) scale(1.075,1)" font-size="13.5" >m-2</text>
<text transform="translate(330.5,423.3) scale(1.124,1)" font-size="14" >A</text>
<text transform="translate(339.40000000000003,428.5) skewX(-9) scale(0.95,1.9)" font-size="15" style="stroke-width:0.9px">'</text>
<text transform="translate(343,429) scale(1.312,1)" font-size="13.5" >m-1</text>
<text transform="translate(278.6,458.6) scale(1.071,1)" font-size="14" >A</text>
<text transform="translate(289.40000000000003,468.5) skewX(-9) scale(0.95,1.9)" font-size="15" style="stroke-width:0.9px">'</text>
<text transform="translate(272.8,486) scale(1.124,1)" font-size="14" >A</text>
<text transform="translate(285.3,492.3) scale(1.407,1)" font-size="16" style="stroke-width:0.15px">i</text>
<text transform="translate(276,523) scale(1.199,1)" font-size="15" >L</text>
<text transform="translate(83,491) scale(1.079,1)" font-size="17.5" >7</text>
<text transform="translate(589,400.5) scale(0.927,1)" font-size="16" >13</text>
<text transform="translate(606.3,393.6) scale(1.083,1)" font-size="18.5" >*</text>
</g>
</svg>
</body></html>
